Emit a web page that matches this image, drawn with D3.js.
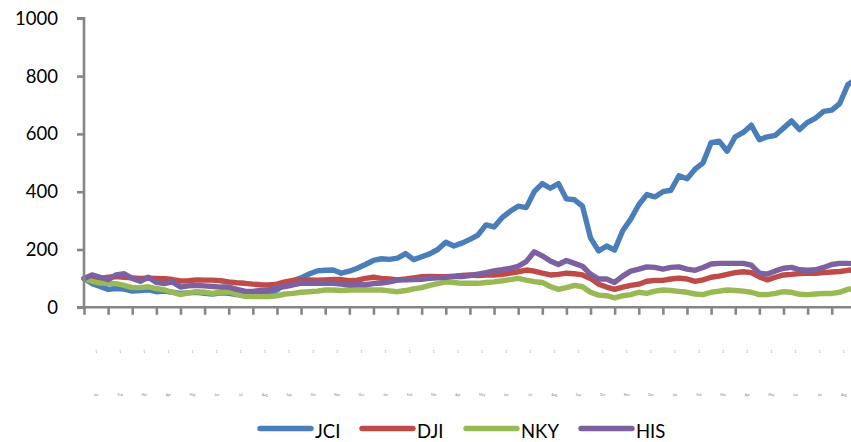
<!DOCTYPE html>
<html>
<head>
<meta charset="utf-8">
<script src="https://cdn.jsdelivr.net/npm/d3@7"></script>
<style>
  html, body { margin: 0; padding: 0; background: #fff; overflow: hidden; }
  svg { display: block; }
</style>
</head>
<body>
<svg id="chart" width="851" height="442"></svg>
<script>
// Index levels (base = 100), sampled three times per axis interval
const seriesNames = ["JCI", "DJI", "NKY", "HIS"];
const seriesColors = ["#4A7EBB", "#BE4B48", "#98B954", "#7D60A0"];

const jci = [100, 82, 72, 62, 65, 63, 56, 58, 60, 54, 56, 52, 48, 50, 52, 48, 46, 50, 48, 44,
  42, 40, 42, 45, 60, 80, 92, 102, 115, 126, 128, 129, 118, 125, 135, 148, 162, 168, 166, 170,
  186, 165, 175, 185, 200, 225, 212, 222, 235, 250, 285, 278, 310, 332, 350, 345, 400, 428, 412, 428,
  375, 372, 350, 240, 195, 212, 198, 265, 305, 355, 390, 382, 400, 405, 455, 445, 478, 500, 570, 575,
  540, 590, 605, 630, 580, 590, 595, 620, 645, 615, 640, 655, 678, 682, 705, 770, 790];

const dji = [100, 95, 100, 104, 106, 104, 102, 100, 101, 100, 99, 96, 91, 92, 95, 94, 94, 92, 88, 85,
  83, 80, 78, 77, 80, 88, 93, 94, 95, 94, 95, 96, 96, 92, 94, 100, 104, 100, 98, 95,
  98, 102, 106, 107, 106, 106, 108, 110, 112, 110, 112, 112, 114, 118, 123, 129, 125, 118, 112, 114,
  118, 116, 112, 100, 80, 70, 62, 70, 76, 80, 90, 93, 93, 98, 101, 98, 90, 95, 104, 108,
  114, 120, 123, 120, 105, 95, 104, 112, 114, 117, 118, 118, 120, 122, 124, 128, 130];

const nky = [100, 90, 84, 83, 82, 76, 68, 68, 71, 65, 60, 52, 44, 50, 54, 52, 48, 52, 54, 45,
  38, 37, 37, 37, 40, 46, 48, 52, 54, 56, 60, 60, 58, 60, 60, 60, 60, 60, 57, 54,
  58, 64, 68, 76, 82, 88, 86, 83, 83, 83, 86, 88, 92, 96, 100, 94, 89, 86, 72, 62,
  68, 76, 71, 52, 42, 40, 33, 40, 44, 52, 48, 56, 60, 58, 55, 52, 46, 44, 52, 56,
  60, 58, 56, 52, 44, 44, 48, 54, 52, 45, 44, 46, 48, 48, 52, 62, 66];

const his = [100, 112, 104, 96, 112, 116, 100, 90, 104, 86, 82, 88, 70, 74, 76, 74, 72, 70, 70, 62,
  56, 55, 58, 60, 68, 72, 78, 84, 83, 83, 83, 83, 80, 77, 78, 78, 82, 84, 88, 94,
  95, 96, 97, 100, 102, 104, 106, 106, 110, 115, 120, 126, 130, 135, 142, 158, 192, 178, 160, 148,
  162, 152, 142, 115, 98, 98, 86, 108, 125, 132, 140, 138, 132, 138, 140, 132, 128, 138, 150, 152,
  152, 152, 152, 146, 118, 115, 126, 135, 138, 130, 128, 130, 138, 148, 152, 152, 150];

const yTicks = [0, 200, 400, 600, 800, 1000];
const monthNames = ["Jan", "Feb", "Mar", "Apr", "May", "Jun", "Jul", "Aug", "Sep", "Oct", "Nov", "Dec"];
const pointsPerInterval = 3;

const series = [jci, dji, nky, his];

const svg = d3.select("#chart");
const margin = { left: 84, top: 18.3, bottom: 307.3 };
const nPoints = jci.length;

const x = d3.scaleLinear().domain([0, nPoints - 1]).range([margin.left, margin.left + (nPoints - 1) * 8.04]);
const y = d3.scaleLinear().domain([0, 1000]).range([margin.bottom, margin.top]);

const axisColor = "#868686";
const font = "Lato, 'Open Sans', 'Liberation Sans', sans-serif";

// Lines (first series underneath)
const line = d3.line()
  .x((d, i) => x(i))
  .y(d => y(d));

const linesG = svg.append("g");
series.forEach((s, k) => {
  linesG.append("path")
    .datum(s)
    .attr("d", line)
    .attr("fill", "none")
    .attr("stroke", seriesColors[k])
    .attr("stroke-width", 5.4)
    .attr("stroke-linejoin", "round")
    .attr("stroke-linecap", "round");
});

// Y axis
const yAxis = d3.axisLeft(y).tickValues(yTicks).tickSize(7).tickPadding(19).tickFormat(d3.format("d"));
const yG = svg.append("g").attr("transform", `translate(${margin.left},0)`).call(yAxis);
yG.select(".domain").attr("stroke", axisColor).attr("stroke-width", 2.6)
  .attr("d", `M-7,${y(1000)}H0V${y(0)}`);
yG.selectAll(".tick line").attr("stroke", axisColor).attr("stroke-width", 2.6);
yG.selectAll(".tick text")
  .attr("fill", "#000")
  .style("font-family", font)
  .style("font-size", "18.5px");

// X axis: category boundaries every interval
const tickIdx = d3.range(0, nPoints, pointsPerInterval);
const xAxis = d3.axisBottom(x).tickValues(tickIdx).tickSize(7.5).tickFormat("");
const xG = svg.append("g").attr("transform", `translate(0,${margin.bottom})`).call(xAxis);
xG.select(".domain").attr("stroke", axisColor).attr("stroke-width", 2.6)
  .attr("d", `M${margin.left - 7},0H${x(nPoints - 1) + 20}`);
xG.selectAll(".tick line").attr("stroke", axisColor).attr("stroke-width", 2.6);

// Very small date labels centred in each interval
const intervals = d3.range(tickIdx.length - 1);
const labG = svg.append("g")
  .style("font-family", font)
  .style("font-size", "3.2px")
  .attr("fill", "#808080")
  .attr("text-anchor", "middle");
labG.selectAll("text.day")
  .data(intervals)
  .join("text")
  .attr("class", "day")
  .attr("x", i => x(i * pointsPerInterval + pointsPerInterval / 2))
  .attr("y", 353)
  .text("1");
labG.selectAll("text.mon")
  .data(intervals)
  .join("text")
  .attr("class", "mon")
  .attr("x", i => x(i * pointsPerInterval + pointsPerInterval / 2))
  .attr("y", 396)
  .text(i => monthNames[i % 12]);

// Legend
const legendX = [258, 360, 464, 579];
const legG = svg.append("g");
seriesNames.forEach((name, k) => {
  const g = legG.append("g").attr("transform", `translate(${legendX[k]},428.5)`);
  g.append("line")
    .attr("x1", 2).attr("x2", 53).attr("y1", 0).attr("y2", 0)
    .attr("stroke", seriesColors[k])
    .attr("stroke-width", 5.4)
    .attr("stroke-linecap", "round");
  g.append("text")
    .attr("x", 57).attr("y", 9.8)
    .attr("fill", "#000")
    .style("font-family", font)
    .style("font-size", "18.5px")
    .text(name);
});
</script>
</body>
</html>
